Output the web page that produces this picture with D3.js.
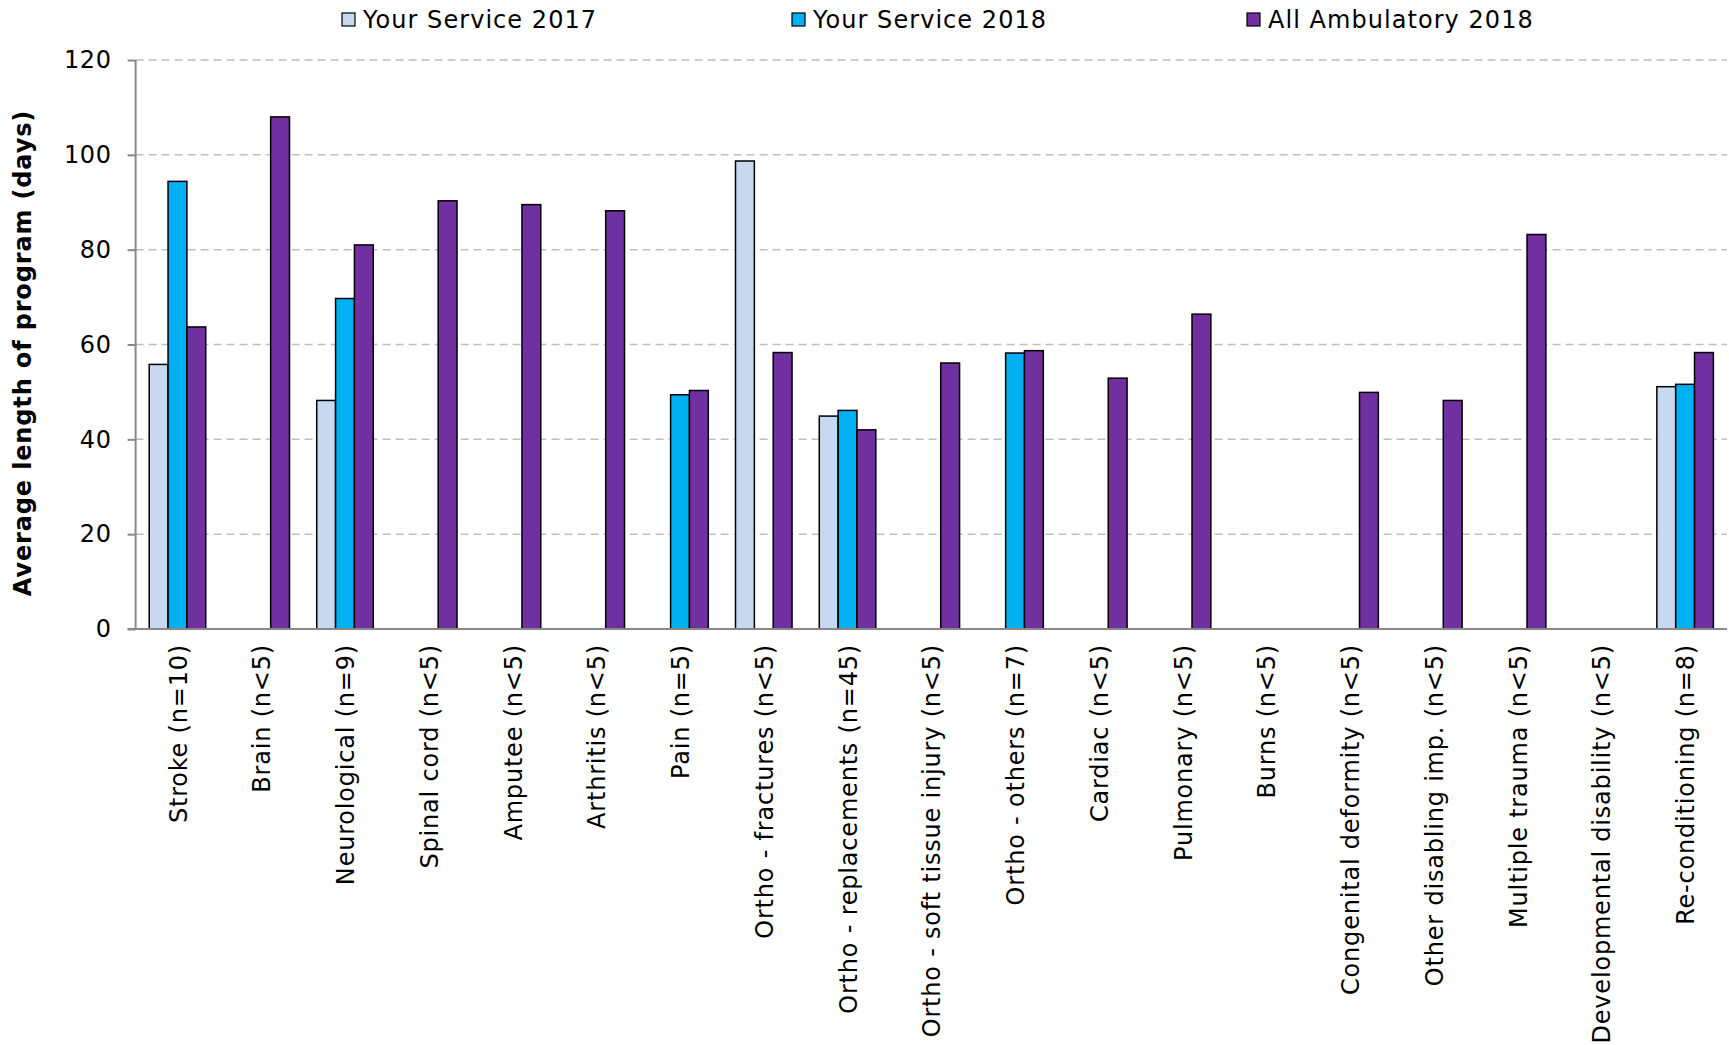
<!DOCTYPE html>
<html>
<head>
<meta charset="utf-8">
<script src="https://cdn.jsdelivr.net/npm/d3@7"></script>
<style>
  html, body { margin: 0; padding: 0; background: #fff; }
  svg { display: block; }
  text { font-family: "DejaVu Sans", Verdana, sans-serif; fill: #000; }
</style>
</head>
<body>
<svg id="chart" width="1729" height="1045"></svg>
<script>
const categories = ["Stroke (n=10)","Brain (n<5)","Neurological (n=9)","Spinal cord (n<5)","Amputee (n<5)","Arthritis (n<5)","Pain (n=5)","Ortho - fractures (n<5)","Ortho -  replacements (n=45)","Ortho -  soft tissue injury (n<5)","Ortho - others (n=7)","Cardiac (n<5)","Pulmonary (n<5)","Burns (n<5)","Congenital deformity (n<5)","Other disabling imp. (n<5)","Multiple trauma (n<5)","Developmental disability (n<5)","Re-conditioning (n=8)"];
const seriesNames = ["Your Service 2017","Your Service 2018","All Ambulatory 2018"];
const service2017 = [55.8, null, 48.2, null, null, null, null, 98.7, 44.9, null, null, null, null, null, null, null, null, null, 51.1];
const service2018 = [94.4, null, 69.7, null, null, null, 49.4, null, 46.1, null, 58.2, null, null, null, null, null, null, null, 51.6];
const allAmbulatory2018 = [63.7, 108.0, 81.0, 90.3, 89.5, 88.2, 50.3, 58.3, 42.0, 56.1, 58.7, 52.9, 66.4, null, 49.9, 48.2, 83.2, null, 58.3];
const yTicks = [0, 20, 40, 60, 80, 100, 120];
const colors = ["#C6D9F1", "#00B0F0", "#7030A0"];

const seriesValues = [service2017, service2018, allAmbulatory2018];

const svg = d3.select("#chart");
const plotLeft = 135.6, plotRight = 1727, plotTop = 60, plotBottom = 629;

const x = d3.scaleBand().domain(categories).range([plotLeft, plotRight]).paddingInner(0).paddingOuter(0);
const groupW = x.bandwidth() * 0.675;
const x1 = d3.scaleBand().domain(seriesNames).range([0, groupW]).padding(0);
const y = d3.scaleLinear().domain([0, 120]).range([plotBottom, plotTop]);

// gridlines
svg.append("g").selectAll("line").data(yTicks.filter(t => t > 0)).join("line")
  .attr("x1", plotLeft).attr("x2", plotRight)
  .attr("y1", d => y(d)).attr("y2", d => y(d))
  .attr("stroke", "#BFBFBF").attr("stroke-width", 1.5)
  .attr("stroke-dasharray", "8,5");

// bars
const flat = [];
categories.forEach((c, i) => {
  seriesNames.forEach((s, j) => {
    const v = seriesValues[j][i];
    if (v != null) flat.push({ c, s, j, v });
  });
});
svg.append("g").selectAll("rect").data(flat).join("rect")
  .attr("x", d => x(d.c) + (x.bandwidth() - groupW) / 2 + x1(d.s))
  .attr("y", d => y(d.v))
  .attr("width", x1.bandwidth())
  .attr("height", d => y(0) - y(d.v))
  .attr("fill", d => colors[d.j])
  .attr("stroke", "#000").attr("stroke-width", 1.5);

// y axis
const yAxis = d3.axisLeft(y).tickValues(yTicks).tickSize(8).tickPadding(16).tickFormat(d3.format("d"));
const gy = svg.append("g").attr("transform", `translate(${plotLeft},0)`).call(yAxis);
gy.select(".domain").attr("stroke", "#898989").attr("stroke-width", 2).attr("d", `M0,${plotTop}V${plotBottom}`);
gy.selectAll(".tick line").attr("stroke", "#898989").attr("stroke-width", 2);
gy.selectAll(".tick text").attr("font-size", 24).attr("font-family", "DejaVu Sans, Verdana, sans-serif").attr("fill", "#000").attr("letter-spacing", "0.6px");

// x axis
const xAxis = d3.axisBottom(x).tickSize(0).tickPadding(0);
const gx = svg.append("g").attr("transform", `translate(0,${plotBottom})`).call(xAxis);
gx.select(".domain").attr("stroke", "#898989").attr("stroke-width", 2).attr("d", `M${plotLeft - 8},0H${plotRight}`);
gx.selectAll(".tick text")
  .attr("font-size", 24).attr("font-family", "DejaVu Sans, Verdana, sans-serif").attr("fill", "#000")
  .attr("letter-spacing", "0.8px")
  .attr("text-anchor", "end")
  .attr("transform", "translate(0,15) rotate(-90)")
  .attr("x", 0).attr("y", 0).attr("dy", "0.38em");

// y title
svg.append("text")
  .attr("transform", `translate(31,353) rotate(-90)`)
  .attr("text-anchor", "middle")
  .attr("font-size", 24).attr("font-weight", "bold")
  .attr("letter-spacing", "0.85px")
  .text("Average length of program (days)");

// legend
const legendX = [342, 792, 1247];
const lg = svg.append("g").selectAll("g").data(seriesNames).join("g")
  .attr("transform", (d, i) => `translate(${legendX[i]},0)`);
lg.append("rect").attr("x", 0).attr("y", 13).attr("width", 13).attr("height", 13)
  .attr("fill", (d, i) => colors[i]).attr("stroke", "#000").attr("stroke-width", 1.2);
lg.append("text").attr("x", 21).attr("y", 28).attr("font-size", 24).attr("letter-spacing", "1.05px").text(d => d);
</script>
</body>
</html>
